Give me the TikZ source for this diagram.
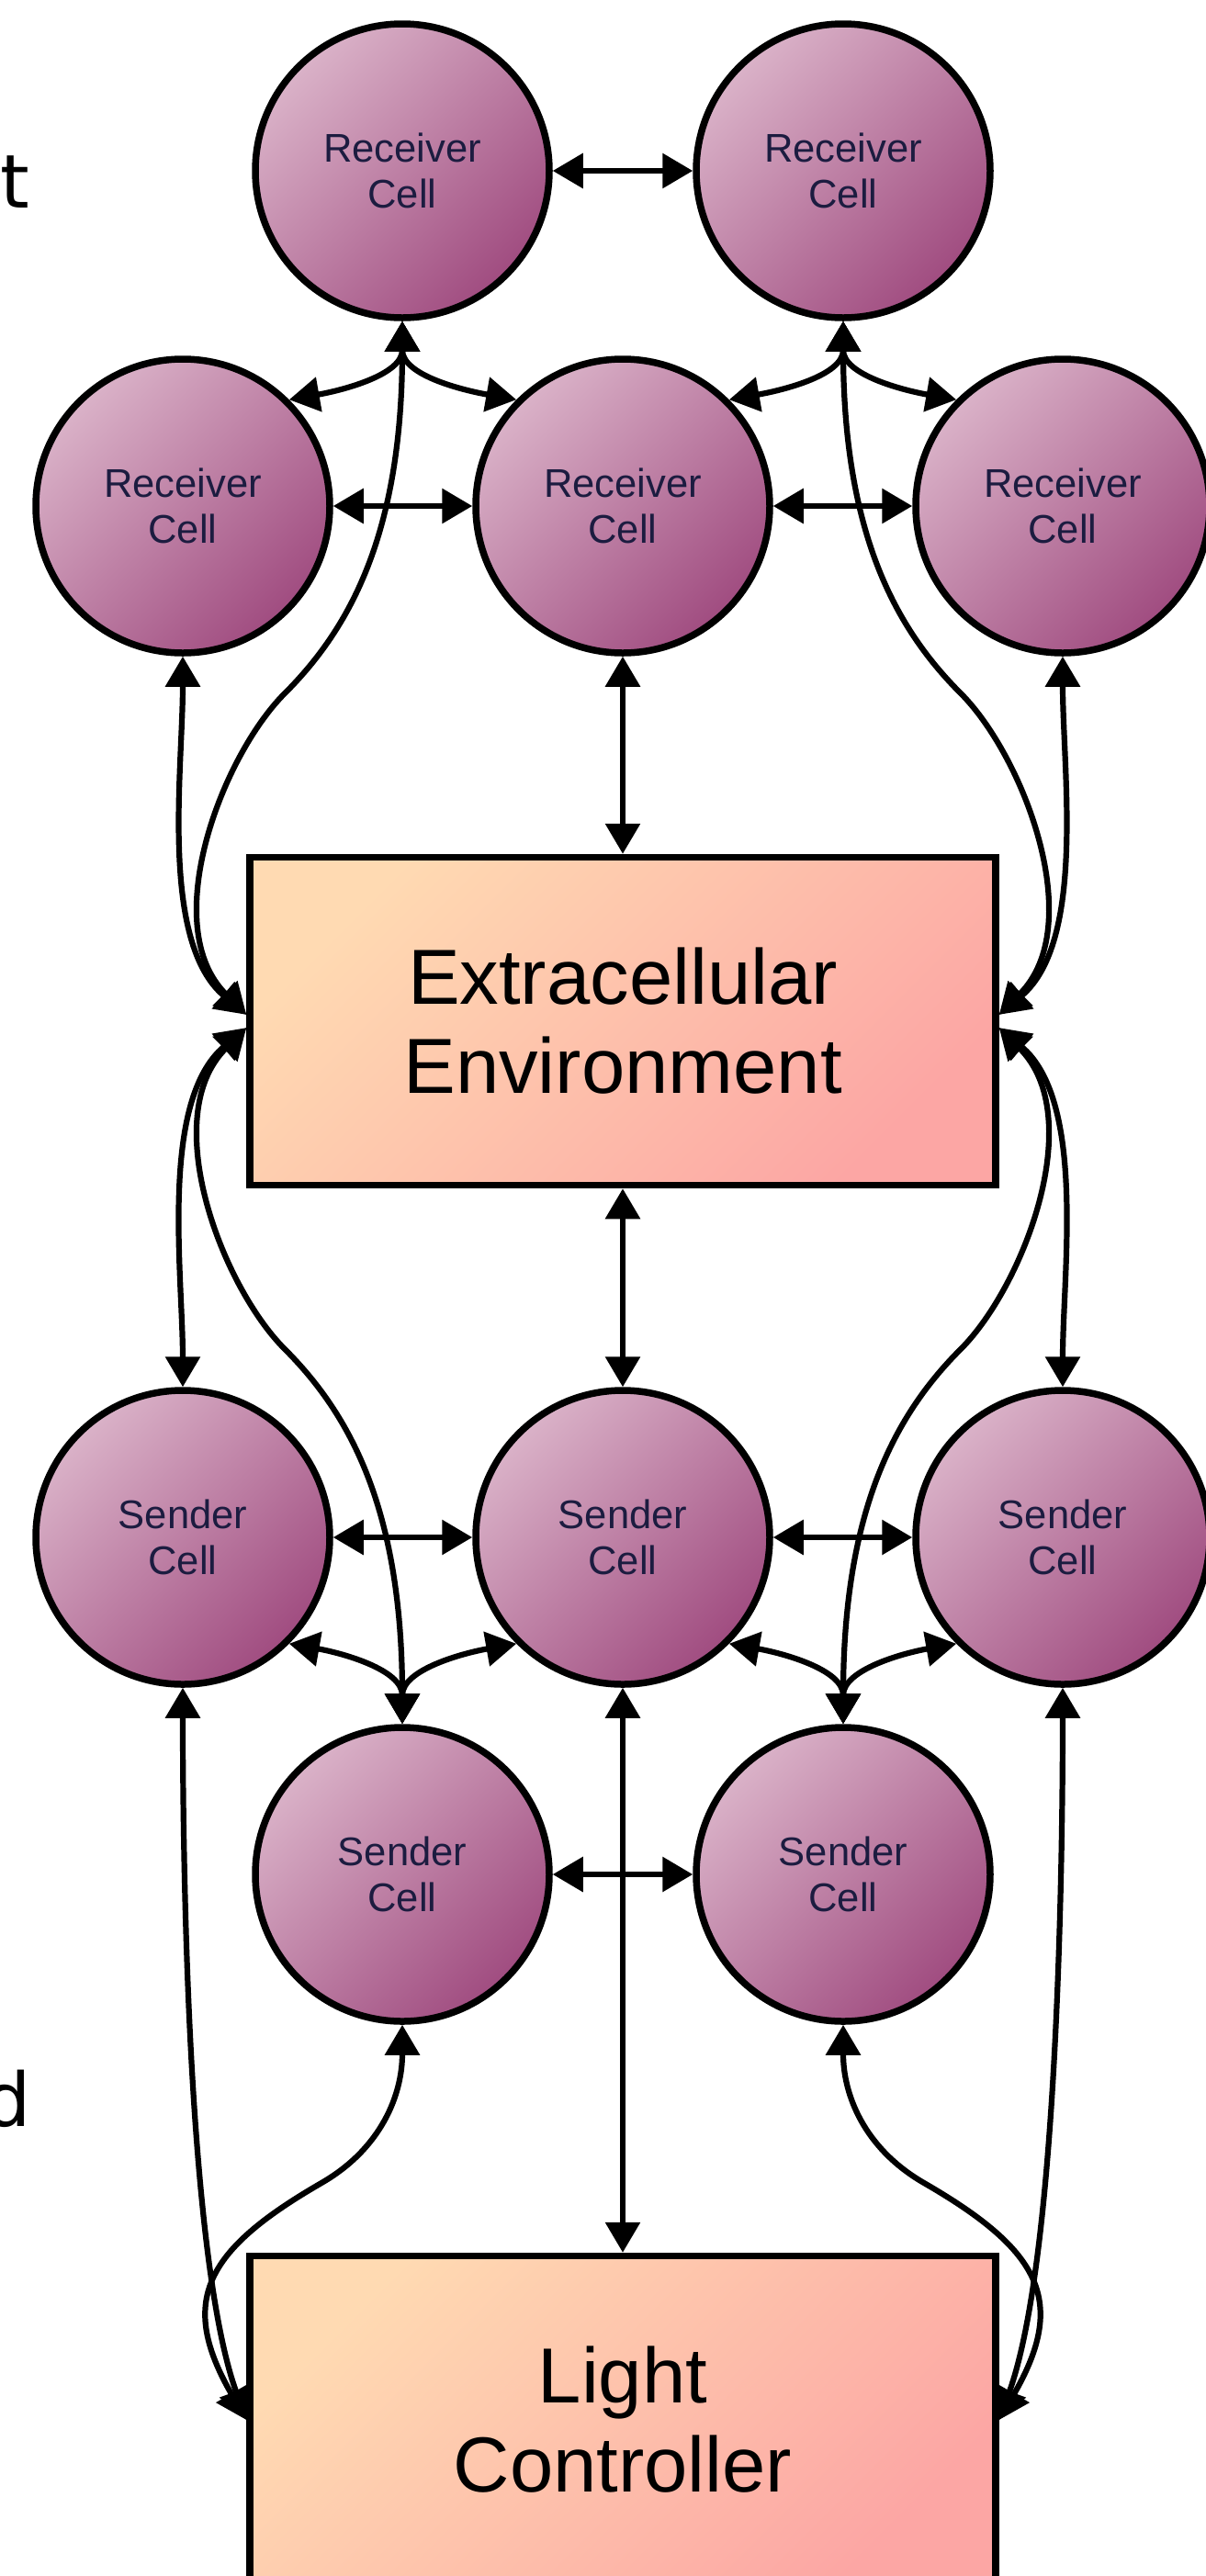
\documentclass[tikz,border=0pt]{standalone}
\usepackage{fontspec}
\setmainfont{Liberation Sans}
\newfontfamily\sidefont{DejaVu Sans}
\usepackage{xcolor}
\usepackage{tikz}
\usetikzlibrary{arrows.meta}
\definecolor{cellhi}{RGB}{218,178,200}
\definecolor{celllo}{RGB}{160,76,128}
\definecolor{envhi}{RGB}{255,218,178}
\definecolor{envlo}{RGB}{252,166,164}
\definecolor{cellink}{RGB}{28,28,64}
\tikzset{
  netcell/.style = {circle, draw=black, line width=0.075cm, minimum size=3.2cm,
                    inner sep=0pt, top color=cellhi, bottom color=celllo,
                    shading angle=45, align=center, text=cellink,
                    font=\fontsize{12.4}{14.2}\selectfont},
  netbox/.style  = {rectangle, draw=black, line width=0.075cm, minimum width=8.12cm,
                    minimum height=3.57cm, top color=envhi, bottom color=envlo,
                    shading angle=45, align=center,
                    font=\fontsize{24.2}{27.6}\selectfont},
  netflow/.style = {{Triangle[length=0.33cm,width=0.37cm]}-{Triangle[length=0.33cm,width=0.37cm]},
                    line width=0.062cm, draw=black},
  netside/.style = {font=\sidefont\fontsize{23}{27}\selectfont, inner sep=0pt,
                    anchor=base west},
}

\begin{document}
\begin{tikzpicture}
  \useasboundingbox (0,0) rectangle (13.12,-28.05);

  \node[netside] (tcut) at (0,-2.26)      {t};
  \node[netside] (dcut) at (-0.18,-23.15) {d};

  % receiver layer
  \node[netcell] (r1) at (4.38,-1.86)  {Receiver\\Cell};
  \node[netcell] (r2) at (9.18,-1.86)  {Receiver\\Cell};
  \node[netcell] (m1) at (1.99,-5.51)  {Receiver\\Cell};
  \node[netcell] (m2) at (6.78,-5.51)  {Receiver\\Cell};
  \node[netcell] (m3) at (11.57,-5.51) {Receiver\\Cell};

  \node[netbox] (ext) at (6.78,-11.12) {Extracellular\\Environment};

  % sender layer
  \node[netcell] (s1) at (1.99,-16.74)  {Sender\\Cell};
  \node[netcell] (s2) at (6.78,-16.74)  {Sender\\Cell};
  \node[netcell] (s3) at (11.57,-16.74) {Sender\\Cell};
  \node[netcell] (t1) at (4.38,-20.41)  {Sender\\Cell};
  \node[netcell] (t2) at (9.18,-20.41)  {Sender\\Cell};

  \node[netbox] (lc) at (6.78,-26.35) {Light\\Controller};

  % bends of the long curves
  \coordinate (kA1) at (3.10,-7.55);
  \coordinate (kA2) at (10.46,-7.55);
  \coordinate (kB1) at (3.10,-14.69);
  \coordinate (kB2) at (10.46,-14.69);
  \coordinate (kC1) at (3.50,-23.77);
  \coordinate (kC2) at (10.06,-23.77);

  % neighbours
  \draw[netflow] (r1) -- (r2);
  \draw[netflow] (m1) -- (m2);
  \draw[netflow] (m2) -- (m3);
  \draw[netflow] (s1) -- (s2);
  \draw[netflow] (s2) -- (s3);
  \draw[netflow] (t1) -- (t2);
  \draw[netflow] (r1.south) to[out=-90,in=10]   (m1.45);
  \draw[netflow] (r1.south) to[out=-90,in=170]  (m2.135);
  \draw[netflow] (r2.south) to[out=-90,in=10]   (m2.45);
  \draw[netflow] (r2.south) to[out=-90,in=170]  (m3.135);
  \draw[netflow] (t1.north) to[out=90,in=-10]   (s1.-45);
  \draw[netflow] (t1.north) to[out=90,in=-170]  (s2.-135);
  \draw[netflow] (t2.north) to[out=90,in=-10]   (s2.-45);
  \draw[netflow] (t2.north) to[out=90,in=-170]  (s3.-135);

  % exchange with the environment
  \draw[netflow] (m2) -- (ext);
  \draw[netflow] (ext) -- (s2);
  \draw[netflow] (m1.south) to[out=-90,in=140,looseness=0.8] (ext.179);
  \draw[netflow] (m3.south) to[out=-90,in=40,looseness=0.8]  (ext.1);
  \draw[netflow] (r1.south) to[out=-90,in=45,out looseness=1.4,in looseness=0.6] (kA1)
                 to[out=-135,in=135,out looseness=0.7,in looseness=1] (ext.179);
  \draw[netflow] (r2.south) to[out=-90,in=135,out looseness=1.4,in looseness=0.6] (kA2)
                 to[out=-45,in=45,out looseness=0.7,in looseness=1] (ext.1);
  \draw[netflow] (ext.181) to[out=-140,in=90,looseness=0.8] (s1.north);
  \draw[netflow] (ext.-1)  to[out=-40,in=90,looseness=0.8]  (s3.north);
  \draw[netflow] (ext.181) to[out=-135,in=135,out looseness=1,in looseness=0.7] (kB1)
                 to[out=-45,in=90,out looseness=0.6,in looseness=1.4] (t1.north);
  \draw[netflow] (ext.-1)  to[out=-45,in=45,out looseness=1,in looseness=0.7] (kB2)
                 to[out=-135,in=90,out looseness=0.6,in looseness=1.4] (t2.north);

  % light controller
  \draw[netflow] (s2) -- (lc);
  \draw[netflow] (s1.south) to[out=-90,in=110,looseness=0.6] (lc.west);
  \draw[netflow] (s3.south) to[out=-90,in=70,looseness=0.6]  (lc.east);
  \draw[netflow] (t1.south) to[out=-90,in=30] (kC1) to[out=-150,in=120,looseness=1.4] (lc.west);
  \draw[netflow] (t2.south) to[out=-90,in=150] (kC2) to[out=-30,in=60,looseness=1.4] (lc.east);
\end{tikzpicture}
\end{document}
